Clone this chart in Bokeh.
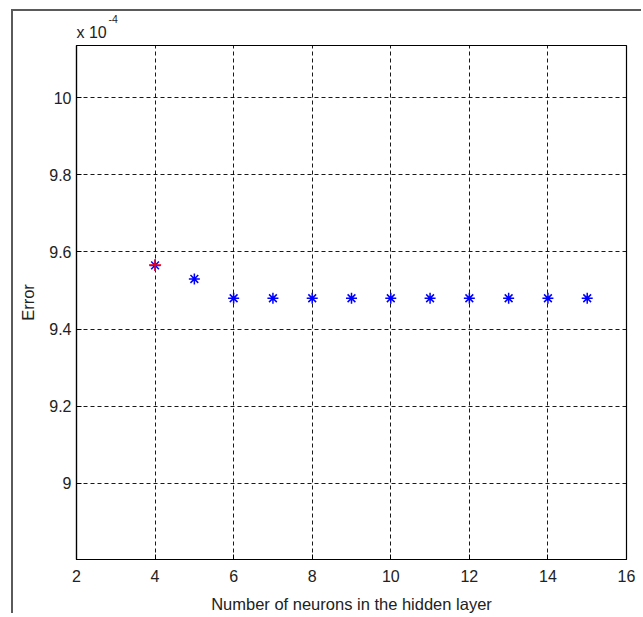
from bokeh.plotting import figure
from bokeh.models import Range1d, FixedTicker, Title, ColumnDataSource
from bokeh.embed import file_html
from bokeh.resources import INLINE

neurons = [4, 5, 6, 7, 8, 9, 10, 11, 12, 13, 14, 15]
error_e4 = [9.565, 9.53, 9.48, 9.48, 9.48, 9.48, 9.48, 9.48, 9.48, 9.48, 9.48, 9.48]
best_x = [4]
best_y = [9.566]
x_ticks = [2, 4, 6, 8, 10, 12, 14, 16]
y_ticks = [9.0, 9.2, 9.4, 9.6, 9.8, 10.0]

FONT = "Liberation Sans"

p = figure(width=630, height=604, output_backend="svg", toolbar_location=None,
           x_range=Range1d(2, 16), y_range=Range1d(8.803, 10.135),
           min_border_left=63, min_border_top=34, min_border_right=17, min_border_bottom=10)
p.background_fill_color = "white"
p.border_fill_color = "white"
p.outline_line_color = "black"
p.outline_line_width = 1.2

# superscript exponent (outer title)
p.title.text = "-4"
p.title.align = "left"
p.title.offset = 32
p.title.standoff = -11
p.title.text_font = FONT
p.title.text_font_size = "10.5px"
p.title.text_font_style = "normal"
p.title.text_color = "#222222"
# base "x 10" (title nearest the frame)
p.add_layout(Title(text="x 10", align="left", offset=0, standoff=9,
                   text_font=FONT, text_font_size="16px", text_font_style="normal",
                   text_color="#222222"), "above")

p.xaxis.ticker = FixedTicker(ticks=x_ticks)
p.yaxis.ticker = FixedTicker(ticks=y_ticks)
p.yaxis.major_label_overrides = {9.0: "9", 9.2: "9.2", 9.4: "9.4", 9.6: "9.6", 9.8: "9.8", 10.0: "10"}
for ax in (p.xaxis[0], p.yaxis[0]):
    ax.axis_line_color = "black"
    ax.axis_line_width = 1.2
    ax.major_tick_in = 5
    ax.major_tick_out = 0
    ax.minor_tick_line_color = None
    ax.major_tick_line_color = "black"
    ax.major_label_text_font = FONT
    ax.major_label_text_font_size = "16px"
    ax.major_label_text_color = "#222222"
    ax.axis_label_text_font = FONT
    ax.axis_label_text_font_size = "16.5px"
    ax.axis_label_text_font_style = "normal"
    ax.axis_label_text_color = "#222222"
p.xaxis.axis_label = "Number of neurons in the hidden layer"
p.yaxis.axis_label = "Error"
p.xaxis.major_label_standoff = 10
p.yaxis.major_label_standoff = 5
p.xaxis.axis_label_standoff = 10
p.yaxis.axis_label_standoff = 9

p.grid.grid_line_color = "black"
p.grid.grid_line_dash = "4 3"
p.grid.grid_line_width = 1
p.grid.grid_line_alpha = 0.9

src = ColumnDataSource(dict(x=neurons, y=error_e4))
p.scatter("x", "y", source=src, marker="asterisk", size=11, line_color="#0000ff", line_width=1.5)
p.scatter(best_x, best_y, marker="cross", size=12, line_color="#ff0000", line_width=1.5)

p.styles = {"border-left": "2px solid #5a5a5a", "border-top": "2px solid #5a5a5a",
            "margin-left": "11px", "margin-top": "9px"}

open("out.html", "w").write(file_html(p, INLINE))
